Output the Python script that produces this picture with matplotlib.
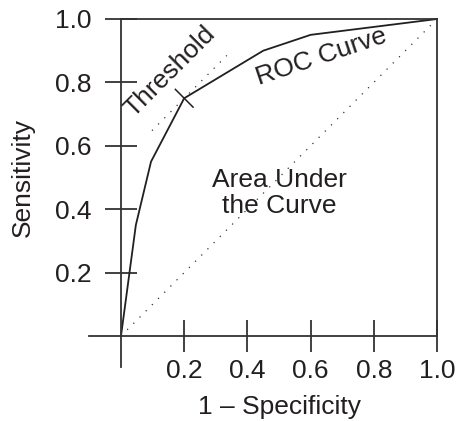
import matplotlib.pyplot as plt
import numpy as np

plt.rcParams["font.family"] = ["Liberation Sans", "DejaVu Sans"]

# ROC curve
fpr = [0.0, 0.047, 0.095, 0.2, 0.45, 0.6, 1.0]
tpr = [0.0, 0.35, 0.55, 0.75, 0.9, 0.95, 1.0]
thr_x, thr_y = 0.2, 0.75
ticks = [0.2, 0.4, 0.6, 0.8, 1.0]
tick_labels = ["0.2", "0.4", "0.6", "0.8", "1.0"]

ink = "#231f20"
line_c = "#333333"
fs = 19

fig = plt.figure(figsize=(4.6, 4.21), dpi=100)
ax = fig.add_axes([89.4 / 460, 53.3 / 421, 347.6 / 460, 348.7 / 421])
ax.set_xlim(-0.1, 1.0)
ax.set_ylim(-0.1, 1.0)

for s in ["left", "bottom", "top", "right"]:
    ax.spines[s].set_color(line_c)
    ax.spines[s].set_linewidth(1.3)
ax.spines["left"].set_position(("data", 0))
ax.spines["bottom"].set_position(("data", 0))
ax.spines["left"].set_bounds(-0.098, 1.0)
ax.spines["bottom"].set_bounds(-0.1, 1.0)
ax.spines["top"].set_bounds(0, 1.0)
ax.spines["right"].set_bounds(0, 1.0)

ax.set_xticks(ticks)
ax.set_xticklabels(tick_labels)
ax.set_yticks(ticks)
ax.set_yticklabels(tick_labels)
ax.tick_params(direction="inout", length=23, width=1.3, color=line_c,
               labelsize=fs, labelcolor=ink)
ax.tick_params(axis="y", pad=10)
ax.tick_params(axis="x", pad=5)

# chance diagonal
ax.plot([0, 1], [0, 1], color=line_c, lw=0.9, ls=(0, (1, 6)), clip_on=False)
# roc curve
ax.plot(fpr, tpr, color=ink, lw=1.3, clip_on=False)
# threshold tangent (dotted) and marker
tx = np.array([-0.102, 0.135])
ax.plot(thr_x + tx, thr_y + tx, color=line_c, lw=0.9, ls=(0, (1, 6)))
d = 0.028
ax.plot([thr_x - d, thr_x + d], [thr_y + d, thr_y - d], color=ink, lw=1.1)

ax.text(0.155, 0.833, "Threshold", rotation=45, rotation_mode="anchor",
        ha="center", va="center", fontsize=fs, color=ink)
ax.text(0.633, 0.88, "ROC Curve", rotation=18.5, rotation_mode="anchor",
        ha="center", va="center", fontsize=fs, color=ink)
ax.text(0.5, 0.451, "Area Under\nthe Curve", ha="center", va="center",
        fontsize=fs, color=ink, linespacing=1.15)

ax.set_xlabel("1 \u2013 Specificity", fontsize=fs, color=ink)
ax.set_ylabel("Sensitivity", fontsize=fs, color=ink)
ax.xaxis.set_label_coords(0.548, -0.078)
ax.yaxis.set_label_coords(-0.156, 0.545)

fig.savefig("out.png", dpi=100)
